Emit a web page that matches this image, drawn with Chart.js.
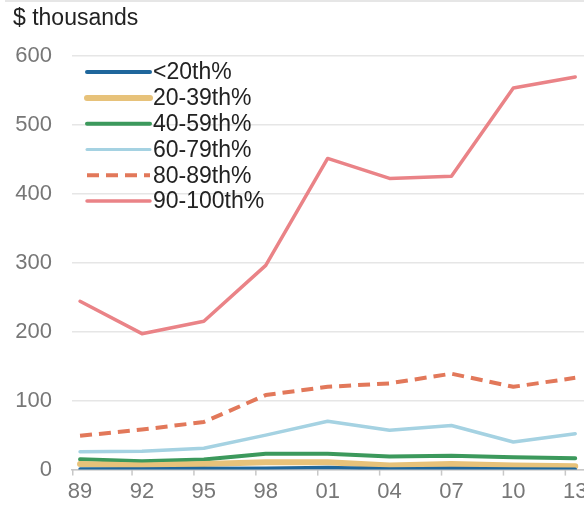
<!DOCTYPE html>
<html>
<head>
<meta charset="utf-8">
<script src="https://cdn.jsdelivr.net/npm/chart.js@4/dist/chart.umd.min.js"></script>
<style>
  html, body { margin: 0; padding: 0; background: #fff; }
  #wrap { position: relative; width: 584px; height: 508px; overflow: hidden; }
  #topRule { position: absolute; left: 5px; right: 0; top: 0; height: 2px; background: #e6e6e6; }
  canvas { position: absolute; left: 0; top: 0; }
</style>
</head>
<body>
<div id="wrap">
  <canvas id="chart" width="600" height="518"></canvas>
  <div id="topRule"></div>
</div>
<script>
// Survey years (two-digit labels)
const years = ['89', '92', '95', '98', '01', '04', '07', '10', '13'];

// Median values by percentile group, $ thousands
const below20 = [1, 1, 1.5, 2, 3, 1, 1.5, 1, 0.5];
const p20to39 = [8, 6, 8, 10.5, 10.5, 6, 8, 6, 5];
const p40to59 = [15, 12, 14.5, 23, 23, 19, 20, 18, 16.5];
const p60to79 = [26, 26.5, 31, 50, 70, 57, 64, 40, 52];
const p80to89 = [49, 58, 69, 108, 120, 125, 139, 120, 133];
const p90to100 = [244, 197, 215, 296, 451, 422, 425, 553, 569];

const yTicks = [0, 100, 200, 300, 400, 500, 600];

const FONT = '"Liberation Sans", Arial, Helvetica, sans-serif';

function series(label, values, color, width, dash) {
  return {
    label: label,
    data: values.map((v, i) => ({ x: i, y: v })),
    borderColor: color,
    backgroundColor: color,
    borderWidth: width,
    borderDash: dash || [],
    borderCapStyle: dash ? 'butt' : 'round',
    borderJoinStyle: 'round',
    pointRadius: 0,
    tension: 0,
    fill: false
  };
}

// Legend drawn inside the plot, top-left, one row per series
const insetLegend = {
  id: 'insetLegend',
  afterDraw(chart) {
    const ctx = chart.ctx;
    const area = chart.chartArea;
    const x0 = area.left + 15;
    const y0 = area.top + 16.5;
    const rowH = 25.8;
    const sampleW = 63;
    ctx.save();
    ctx.font = '23px ' + FONT;
    ctx.textBaseline = 'middle';
    ctx.textAlign = 'left';
    chart.data.datasets.forEach((ds, i) => {
      const y = y0 + i * rowH;
      ctx.beginPath();
      ctx.strokeStyle = ds.borderColor;
      ctx.lineWidth = ds.legendWidth || ds.borderWidth;
      ctx.lineCap = ds.borderDash.length ? 'butt' : 'round';
      ctx.setLineDash(ds.borderDash);
      ctx.moveTo(x0, y);
      ctx.lineTo(x0 + sampleW, y);
      ctx.stroke();
      ctx.setLineDash([]);
      ctx.fillStyle = '#222';
      ctx.fillText(ds.label, x0 + sampleW + 3, y + 1);
    });
    ctx.restore();
  }
};

// Short tick marks under the baseline
const baseTicks = {
  id: 'baseTicks',
  beforeDatasetsDraw(chart) {
    const xs = chart.scales.x;
    const ctx = chart.ctx;
    const yb = chart.chartArea.bottom;
    ctx.save();
    ctx.strokeStyle = '#c8c8c8';
    ctx.lineWidth = 1.5;
    years.forEach((_, i) => {
      const px = Math.max(xs.getPixelForValue(i - 0.16), chart.chartArea.left + 0.75);
      ctx.beginPath();
      ctx.moveTo(px, yb);
      ctx.lineTo(px, yb + 6);
      ctx.stroke();
    });
    ctx.restore();
  }
};

const datasets = [
  Object.assign(series('<20th%', below20, '#1f679c', 3.5), { legendWidth: 4 }),
  Object.assign(series('20-39th%', p20to39, '#e7c27a', 6), { legendWidth: 6 }),
  Object.assign(series('40-59th%', p40to59, '#3c995c', 4), { legendWidth: 4 }),
  Object.assign(series('60-79th%', p60to79, '#a5d2e2', 3.5), { legendWidth: 3 }),
  Object.assign(series('80-89th%', p80to89, '#e2785a', 4, [12, 7]), { legendWidth: 4 }),
  Object.assign(series('90-100th%', p90to100, '#ea8387', 3.5), { legendWidth: 3.5 })
];

new Chart(document.getElementById('chart'), {
  type: 'line',
  data: { datasets: datasets },
  plugins: [insetLegend, baseTicks],
  options: {
    responsive: false,
    animation: false,
    events: [],
    layout: { padding: { left: 13, right: 0, top: 0, bottom: 4 } },
    plugins: {
      legend: { display: false },
      tooltip: { enabled: false },
      title: {
        display: true,
        text: '$ thousands',
        align: 'start',
        color: '#222',
        font: { family: FONT, size: 23, weight: 'normal' },
        padding: { top: 5, bottom: 23 }
      }
    },
    scales: {
      x: {
        type: 'linear',
        min: -0.13,
        max: 8.4,
        afterBuildTicks(scale) {
          scale.ticks = years.map((_, i) => ({ value: i }));
        },
        ticks: {
          color: '#777',
          font: { family: FONT, size: 22 },
          padding: 9,
          maxRotation: 0,
          autoSkip: false,
          callback: (v) => years[v]
        },
        grid: { display: false, drawTicks: false },
        border: { display: true, color: '#c8c8c8', width: 1.5 }
      },
      y: {
        min: 0,
        max: 600,
        afterBuildTicks(scale) {
          scale.ticks = yTicks.map(v => ({ value: v }));
        },
        afterFit(scale) { scale.width = 59; },
        ticks: {
          color: '#777',
          font: { family: FONT, size: 22 },
          padding: 20
        },
        grid: { color: '#e6e6e6', lineWidth: 1.5, drawTicks: false },
        border: { display: false }
      }
    }
  }
});
</script>
</body>
</html>
